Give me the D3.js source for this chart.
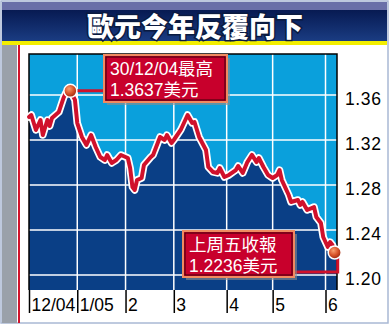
<!DOCTYPE html>
<html>
<head>
<meta charset="utf-8">
<script src="https://cdn.jsdelivr.net/npm/d3@7/dist/d3.min.js"></script>
<style>
    body { margin: 0; background: #ffffff; }
    svg { display: block; }
</style>
</head>
<body>
<script>
    // trading-day index since 1 Dec 2004, and EUR/USD rate
    var days = [0,1,3,5,6,8,9,10,13,15,16,18,20,21,23,25,27,29,31,33,34,36,38,40,43,44,45,46,47,49,
                50,53,54,56,57,59,60,62,63,66,68,69,71,72,74,77,78,80,82,83,85,87,90,91,93,95,97,99,100,102,
                104,106,108,109,110,113,114,117,118,119,121,124,125,127,128,130,131,132,133];
    var rates = [1.3404,1.3422,1.3289,1.3378,1.3244,1.3378,1.3324,1.3396,1.3449,1.3573,
                 1.3618,1.3637,1.3556,1.3351,1.3227,1.3156,1.3244,1.3138,1.3049,1.3022,
                 1.3067,1.2996,1.3022,1.3067,1.3040,1.2951,1.2782,1.2756,1.2844,1.2862,
                 1.2978,1.3049,1.3067,1.3173,1.3227,1.3200,1.3244,1.3173,1.3200,1.3289,
                 1.3378,1.3422,1.3351,1.3360,1.3227,1.3111,1.2960,1.2916,1.2907,1.2951,
                 1.2871,1.2889,1.2933,1.2969,1.2907,1.3004,1.3067,1.3004,1.3040,1.2960,
                 1.2889,1.2862,1.2889,1.2933,1.2844,1.2711,1.2649,1.2667,1.2622,1.2649,
                 1.2578,1.2604,1.2516,1.2462,1.2338,1.2249,1.2293,1.2267,1.2200];
    var monthDays = [0, 21, 42, 63, 86, 106, 129];
    var monthLabels = ["12/04", "1/05", "2", "3", "4", "5", "6"];
    var yTicks = [1.20, 1.24, 1.28, 1.32, 1.36];
    var title = "歐元今年反覆向下";
    var highText = ["30/12/04最高", "1.3637美元"];
    var lastText = ["上周五收報", "1.2236美元"];

    var W = 390, H = 327;
    var pL = 29, pR = 337, pT = 54, pB = 290;
    var latin = "'Liberation Sans', Arial, sans-serif";
    var cjk = "'Liberation Sans', 'Noto Sans CJK TC', sans-serif";

    var data = days.map(function(d, i){ return {day: d, val: rates[i]}; });

    var svg = d3.select("body").append("svg")
        .attr("width", W)
        .attr("height", H);

    var defs = svg.append("defs");
    var tg = defs.append("linearGradient").attr("id", "titleGrad")
        .attr("x1", 0).attr("y1", 0).attr("x2", 0).attr("y2", 1);
    tg.append("stop").attr("offset", "0%").attr("stop-color", "#071a52");
    tg.append("stop").attr("offset", "100%").attr("stop-color", "#1a3c82");
    var bg = defs.append("radialGradient").attr("id", "ball")
        .attr("cx", "40%").attr("cy", "35%").attr("r", "65%");
    bg.append("stop").attr("offset", "0%").attr("stop-color", "#f7a070");
    bg.append("stop").attr("offset", "55%").attr("stop-color", "#d9542a");
    bg.append("stop").attr("offset", "100%").attr("stop-color", "#9c2a10");

    // frame
    svg.append("rect").attr("x", 1).attr("y", 1).attr("width", W - 3).attr("height", H - 5)
        .attr("fill", "#ffffff").attr("stroke", "#a9b8d4").attr("stroke-width", 1.5);
    svg.append("rect").attr("x", 2).attr("y", 2).attr("width", W - 5).attr("height", 9)
        .attr("fill", "#6a70a8");
    svg.append("rect").attr("x", 2).attr("y", 10).attr("width", W - 5).attr("height", 31)
        .attr("fill", "url(#titleGrad)");
    svg.append("rect").attr("x", 2).attr("y", 41).attr("width", W - 5).attr("height", 4)
        .attr("fill", "#f2ee00");
    svg.append("rect").attr("x", 2).attr("y", 45).attr("width", 15).attr("height", H - 49)
        .attr("fill", "#9aa1aa");
    svg.append("rect").attr("x", 18).attr("y", 45).attr("width", 2).attr("height", H - 49)
        .attr("fill", "#d0142c");

    svg.append("text")
        .attr("x", 195).attr("y", 37)
        .attr("text-anchor", "middle")
        .style("font-family", "'Noto Sans CJK TC', sans-serif")
        .style("font-weight", "900")
        .style("font-size", "27px")
        .attr("fill", "#ffffff")
        .attr("stroke", "#0a1a40")
        .attr("stroke-width", 3)
        .attr("paint-order", "stroke")
        .text(title);

    var x = d3.scaleLinear().domain([0, 134]).range([pL, pR]);
    var y = d3.scaleLinear().domain([1.20 - 15 / 1125, 1.20 + 221 / 1125]).range([pB, pT]);

    // plot background and area under line
    svg.append("rect").attr("x", pL).attr("y", pT)
        .attr("width", pR - pL).attr("height", pB - pT)
        .attr("fill", "#0aa0dc");

    var area = d3.area()
        .x(function(d){ return x(d.day); })
        .y0(pB)
        .y1(function(d){ return y(d.val); });
    var areaData = data.slice();
    areaData.push({day: 134, val: rates[rates.length - 1]});
    svg.append("path").datum(areaData)
        .attr("fill", "#0a3f86")
        .attr("d", area);

    // grid
    svg.append("g").selectAll("line").data(yTicks).enter().append("line")
        .attr("x1", pL).attr("x2", pR)
        .attr("y1", function(d){ return y(d); })
        .attr("y2", function(d){ return y(d); })
        .attr("stroke", "#ffffff").attr("stroke-width", 1.5);
    svg.append("g").selectAll("line").data(monthDays.slice(1)).enter().append("line")
        .attr("x1", function(d){ return x(d); })
        .attr("x2", function(d){ return x(d); })
        .attr("y1", pT).attr("y2", pB)
        .attr("stroke", "#ffffff").attr("stroke-width", 1.5);

    // plot border
    svg.append("path")
        .attr("d", "M" + pL + "," + pB + "V" + pT + "H" + pR + "V" + pB)
        .attr("fill", "none").attr("stroke", "#000").attr("stroke-width", 1.5);

    // axes
    var yAxis = svg.append("g")
        .attr("transform", "translate(" + (pR + 8) + ",0)")
        .call(d3.axisRight(y).tickValues(yTicks).tickSize(0).tickFormat(d3.format(".2f")));
    yAxis.select(".domain").remove();
    yAxis.selectAll("text")
        .attr("x", 0).attr("dy", "0.55em")
        .style("font-family", latin)
        .style("font-size", "17.5px")
        .style("letter-spacing", "0.6px")
        .attr("fill", "#000");

    var xAxis = svg.append("g")
        .attr("transform", "translate(0," + pB + ")")
        .call(d3.axisBottom(x).tickValues(monthDays).tickSize(23)
            .tickFormat(function(d, i){ return monthLabels[i]; }));
    xAxis.select(".domain").remove();
    xAxis.selectAll("line").attr("stroke", "#000").attr("stroke-width", 1.5);
    xAxis.selectAll("text")
        .attr("text-anchor", "start")
        .attr("x", 2).attr("y", 20.5).attr("dy", 0)
        .style("font-family", latin)
        .style("font-size", "17.5px")
        .attr("fill", "#000");

    // line
    var line = d3.line()
        .x(function(d){ return x(d.day); })
        .y(function(d){ return y(d.val); });
    svg.append("path").datum(data)
        .attr("fill", "none").attr("stroke", "#ffffff").attr("stroke-width", 7.5)
        .attr("stroke-linejoin", "round").attr("stroke-linecap", "round")
        .attr("d", line);
    svg.append("path").datum(data)
        .attr("fill", "none").attr("stroke", "#d0112b").attr("stroke-width", 4)
        .attr("stroke-linejoin", "round").attr("stroke-linecap", "round")
        .attr("d", line);

    // annotations
    var hi = data[d3.maxIndex(data, function(d){ return d.val; })];
    var last = data[data.length - 1];

    function box(bx, by, bw, bh, lines, ty) {
        svg.append("rect").attr("x", bx + 3).attr("y", by + 3).attr("width", bw).attr("height", bh)
            .attr("fill", "#8c8c8c").attr("opacity", 0.6);
        svg.append("rect").attr("x", bx).attr("y", by).attr("width", bw).attr("height", bh)
            .attr("fill", "#c8002c").attr("stroke", "#f08a60").attr("stroke-width", 2);
        svg.append("rect").attr("x", bx + 2).attr("y", by + 2).attr("width", bw - 4).attr("height", bh - 4)
            .attr("fill", "none").attr("stroke", "#3a0008").attr("stroke-width", 1);
        lines.forEach(function(t, i){
            svg.append("text")
                .attr("x", bx + 6).attr("y", by + ty[i])
                .style("font-family", cjk)
                .style("font-size", "17.5px")
                .attr("fill", "#ffffff")
                .text(t);
        });
    }

    svg.append("line")
        .attr("x1", x(hi.day)).attr("x2", 104)
        .attr("y1", y(hi.val)).attr("y2", y(hi.val))
        .attr("stroke", "#d0112b").attr("stroke-width", 3);
    box(104, 55, 123, 47, highText, [20, 41]);

    svg.append("path")
        .attr("d", "M294,272H" + (x(last.day) + 3) + "V" + y(last.val))
        .attr("fill", "none").attr("stroke", "#d0112b").attr("stroke-width", 3);
    box(183, 231, 111, 46, lastText, [20, 41]);

    [hi, last].forEach(function(d){
        svg.append("circle")
            .attr("cx", x(d.day)).attr("cy", y(d.val)).attr("r", 6.5)
            .attr("fill", "url(#ball)")
            .attr("stroke", "#ffffff").attr("stroke-width", 1.5);
    });
</script>
</body>
</html>
